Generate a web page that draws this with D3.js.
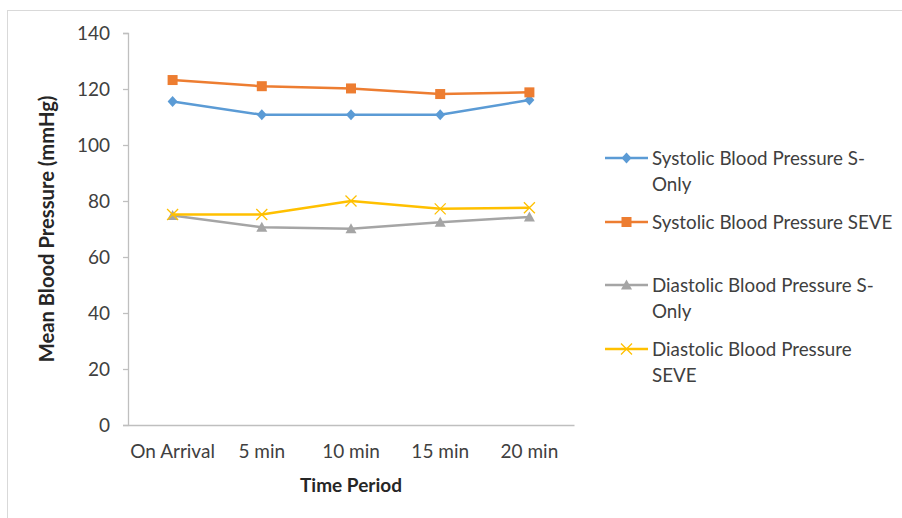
<!DOCTYPE html>
<html><head><meta charset="utf-8">
<script src="https://cdn.jsdelivr.net/npm/d3@7/dist/d3.min.js"></script>
<style>body{margin:0;background:#fff}svg{display:block}</style>
</head><body>
<svg id="chart" width="902" height="518"></svg>
<script>
const categories = ["On Arrival", "5 min", "10 min", "15 min", "20 min"];
const systolicSOnly = [115.5, 110.8, 110.8, 110.8, 116.1];
const systolicSEVE = [123.2, 121.0, 120.2, 118.2, 118.8];
const diastolicSOnly = [74.8, 70.6, 70.1, 72.4, 74.3];
const diastolicSEVE = [75.2, 75.2, 80.0, 77.2, 77.6];
const yTicks = [0, 20, 40, 60, 80, 100, 120, 140];
const seriesNames = ["Systolic Blood Pressure S-Only", "Systolic Blood Pressure SEVE", "Diastolic Blood Pressure S-Only", "Diastolic Blood Pressure SEVE"];

const series = [
  {name: seriesNames[0], values: systolicSOnly, color: "#5B9BD5", marker: "diamond", lines: ["Systolic Blood Pressure S-", "Only"]},
  {name: seriesNames[1], values: systolicSEVE, color: "#ED7D31", marker: "square", lines: ["Systolic Blood Pressure SEVE"]},
  {name: seriesNames[2], values: diastolicSOnly, color: "#A5A5A5", marker: "triangle", lines: ["Diastolic Blood Pressure S-", "Only"]},
  {name: seriesNames[3], values: diastolicSEVE, color: "#FFC000", marker: "x", lines: ["Diastolic Blood Pressure", "SEVE"]}
];

const svg = d3.select("#chart");
const font = "Lato, 'Open Sans', sans-serif";
const textColor = "#404040";

svg.append("rect").attr("x", 7.5).attr("y", 10.5).attr("width", 910).attr("height", 520)
  .attr("fill", "none").attr("stroke", "#D9D9D9").attr("stroke-width", 1);

const pLeft = 128, pRight = 574, pTop = 33, pBottom = 425;
const x = d3.scaleBand().domain(categories).range([pLeft, pRight]);
const y = d3.scaleLinear().domain([0, 140]).range([pBottom, pTop]);

// y axis
const yAxis = svg.append("g").attr("transform", `translate(${pLeft},0)`)
  .call(d3.axisLeft(y).tickValues(yTicks).tickSize(5).tickPadding(13));
yAxis.select(".domain").attr("stroke", "#BFBFBF").attr("stroke-width", 1.3);
yAxis.selectAll(".tick line").attr("stroke", "#BFBFBF").attr("stroke-width", 1.3);
yAxis.selectAll(".tick text").attr("font-family", font).attr("font-size", 19).attr("fill", textColor);

// x axis
const xAxis = svg.append("g").attr("transform", `translate(0,${pBottom})`)
  .call(d3.axisBottom(x).tickSize(0).tickPadding(20));
xAxis.select(".domain").attr("stroke", "#BFBFBF").attr("stroke-width", 1.3);
xAxis.selectAll(".tick text").attr("font-family", font).attr("font-size", 19).attr("fill", textColor);

// axis titles
svg.append("text").attr("transform", `translate(54,${(pTop + pBottom) / 2}) rotate(-90)`)
  .attr("text-anchor", "middle").attr("font-family", font).attr("font-weight", "bold")
  .attr("font-size", 20.2).attr("fill", "#262626").text("Mean Blood Pressure (mmHg)");
svg.append("text").attr("x", 351).attr("y", 492)
  .attr("text-anchor", "middle").attr("font-family", font).attr("font-weight", "bold")
  .attr("font-size", 19).attr("fill", "#262626").text("Time Period");

function drawMarker(g, type, color, cx, cy) {
  if (type === "diamond") {
    g.append("path").attr("d", `M${cx},${cy-5.5}L${cx+5},${cy}L${cx},${cy+5.5}L${cx-5},${cy}Z`).attr("fill", color);
  } else if (type === "square") {
    g.append("rect").attr("x", cx - 5).attr("y", cy - 5).attr("width", 10).attr("height", 10).attr("fill", color);
  } else if (type === "triangle") {
    g.append("path").attr("d", `M${cx},${cy-5.5}L${cx+5.5},${cy+4.5}L${cx-5.5},${cy+4.5}Z`).attr("fill", color);
  } else if (type === "x") {
    g.append("path").attr("d", `M${cx-5.5},${cy-5.5}L${cx+5.5},${cy+5.5}M${cx+5.5},${cy-5.5}L${cx-5.5},${cy+5.5}`)
      .attr("stroke", color).attr("stroke-width", 1.3).attr("fill", "none");
  }
}

const line = d3.line().x((d, i) => x(categories[i]) + x.bandwidth() / 2).y(d => y(d));
series.forEach(s => {
  const g = svg.append("g");
  g.append("path").attr("d", line(s.values)).attr("fill", "none").attr("stroke", s.color)
    .attr("stroke-width", 2.5).attr("stroke-linejoin", "round");
  s.values.forEach((v, i) => drawMarker(g, s.marker, s.color, x(categories[i]) + x.bandwidth() / 2, y(v)));
});

// legend
const legendY = [158, 222, 285, 349];
series.forEach((s, i) => {
  const g = svg.append("g");
  const ly = legendY[i];
  g.append("line").attr("x1", 605).attr("x2", 648).attr("y1", ly).attr("y2", ly)
    .attr("stroke", s.color).attr("stroke-width", 2.5);
  drawMarker(g, s.marker, s.color, 626.5, ly);
  s.lines.forEach((t, j) => {
    g.append("text").attr("x", 652).attr("y", ly + j * 26).attr("dy", "0.35em")
      .attr("font-family", font).attr("font-size", 18.8).attr("fill", textColor).text(t);
  });
});
</script>
</body></html>
